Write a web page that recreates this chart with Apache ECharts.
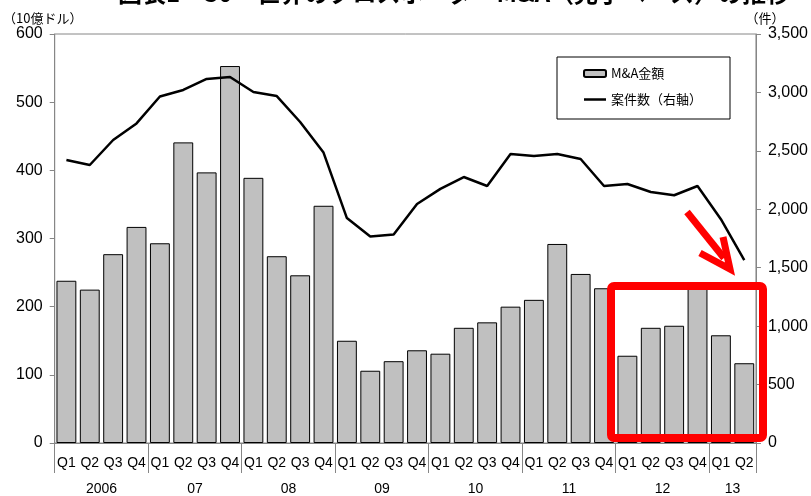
<!DOCTYPE html>
<html>
<head>
<meta charset="utf-8">
<script src="https://cdn.jsdelivr.net/npm/echarts@6/dist/echarts.min.js"></script>
<style>
  html, body { margin: 0; padding: 0; background: #fff; }
  #chart { width: 811px; height: 496px; }
</style>
</head>
<body>
<div id="chart"></div>
<script>
// 2006 Q1 - 2013 Q2
const quarters = [
  "Q1", "Q2", "Q3", "Q4", "Q1", "Q2", "Q3", "Q4", "Q1", "Q2", "Q3", "Q4",
  "Q1", "Q2", "Q3", "Q4", "Q1", "Q2", "Q3", "Q4", "Q1", "Q2", "Q3", "Q4",
  "Q1", "Q2", "Q3", "Q4", "Q1", "Q2"
];
const years = ["2006", "07", "08", "09", "10", "11", "12", "13"];
// M&A amount (10 bn USD), left axis
const maAmount = [
  238, 225, 277, 317, 293, 441, 397, 553, 389, 274, 246, 348,
  150, 106, 120, 136, 131, 169, 177, 200, 210, 292, 248, 227,
  128, 169, 172, 228, 158, 117
];
// number of deals, right axis
const dealCount = [
  2422, 2379, 2593, 2735, 2965, 3021, 3115, 3132, 3004, 2969, 2747, 2485,
  1925, 1768, 1785, 2045, 2175, 2276, 2199, 2473, 2456, 2473, 2430, 2199,
  2216, 2148, 2120, 2199, 1915, 1565
];

// year axis: 61 slots on a half-quarter grid, labels at year centres
const yearSlots = new Array(quarters.length * 2 + 1).fill("");
const yearBounds = new Set();
years.forEach(function (y, j) {
  const s = j * 4;
  const e = Math.min(s + 4, quarters.length);
  yearSlots[s + e] = y;
  yearBounds.add(s * 2);
  yearBounds.add(e * 2);
});

const font = "'Liberation Sans', Arial, 'Noto Sans CJK JP', sans-serif";
const cjk = "'Noto Sans CJK JP', 'Liberation Sans', sans-serif";
const grey = "#868686";
// thin line legend icon (tiny corner dots keep the box 22x7)
const lineIcon = "path://M0,0H0.05V0.05H0ZM0,2.25H22V4.75H0ZM21.95,6.95H22V7H21.95Z";

const chart = echarts.init(document.getElementById("chart"));
chart.setOption({
  animation: false,
  textStyle: { fontFamily: font },
  grid: {
    left: 51, right: 51, top: 34, bottom: 53,
    show: true, borderColor: grey, borderWidth: 1
  },
  legend: {
    orient: "vertical",
    left: 557,
    top: 57,
    padding: [10, 28, 13, 26],
    itemGap: 13,
    itemWidth: 22,
    itemHeight: 7,
    backgroundColor: "#fff",
    borderColor: "#000",
    borderWidth: 1,
    textStyle: { fontFamily: cjk, fontSize: 13, color: "#000" },
    data: [
      { name: "M&A金額" },
      { name: "案件数（右軸）", icon: lineIcon }
    ]
  },
  xAxis: [
    {
      type: "category",
      data: quarters,
      axisLine: { lineStyle: { color: grey } },
      axisTick: { interval: 0, length: 29, lineStyle: { color: grey } },
      axisLabel: { interval: 0, margin: 13, fontSize: 14, color: "#000" }
    },
    {
      type: "category",
      data: yearSlots,
      boundaryGap: false,
      position: "bottom",
      offset: 29,
      axisLine: { show: false },
      axisTick: {
        interval: function (i) { return yearBounds.has(i); },
        length: 30,
        lineStyle: { color: grey }
      },
      axisLabel: { interval: 0, margin: 10, fontSize: 14, color: "#000" }
    }
  ],
  yAxis: [
    {
      type: "value",
      min: 0, max: 600, interval: 100,
      name: "（10億ドル）",
      nameLocation: "end",
      nameGap: 9,
      nameTextStyle: { fontFamily: cjk, fontSize: 13, color: "#000", padding: [0, 24, 0, 0] },
      splitLine: { show: false },
      axisLine: { show: true, lineStyle: { color: grey } },
      axisTick: { show: true, length: 5, lineStyle: { color: grey } },
      axisLabel: { margin: 12, fontSize: 16, color: "#000" }
    },
    {
      type: "value",
      min: 0, max: 3500, interval: 500,
      position: "right",
      name: "（件）",
      nameLocation: "end",
      nameGap: 9,
      nameTextStyle: { fontFamily: cjk, fontSize: 13, color: "#000", padding: [0, 0, 0, 18] },
      splitLine: { show: false },
      axisLine: { show: true, lineStyle: { color: grey } },
      axisTick: { show: true, length: 5, lineStyle: { color: grey } },
      axisLabel: {
        margin: 12, fontSize: 16, color: "#000",
        formatter: function (v) { return v.toLocaleString("en-US"); }
      }
    }
  ],
  series: [
    {
      name: "M&A金額",
      type: "bar",
      data: maAmount,
      barCategoryGap: "15%",
      itemStyle: { color: "#c0c0c0", borderColor: "#000", borderWidth: 1 }
    },
    {
      name: "案件数（右軸）",
      type: "line",
      yAxisIndex: 1,
      data: dealCount,
      symbol: "none",
      z: 3,
      lineStyle: { color: "#000", width: 2.5 },
      itemStyle: { color: "#000" }
    }
  ],
  graphic: [
    {
      type: "text",
      x: 118,
      y: 5,
      z: 100,
      style: {
        text: "図表1－30　世界のクロスボーダーM&A（完了ベース）の推移",
        fontFamily: cjk, fontSize: 24, fontWeight: "bold", fill: "#000",
        verticalAlign: "bottom"
      }
    },
    {
      type: "rect",
      z: 100,
      shape: { x: 611, y: 286, width: 152, height: 152, r: 3 },
      style: { fill: "none", stroke: "#ff0000", lineWidth: 8 }
    },
    {
      type: "polyline",
      z: 100,
      shape: { points: [[687, 212], [724, 258]] },
      style: { stroke: "#ff0000", lineWidth: 7, fill: "none" }
    },
    {
      type: "polyline",
      z: 100,
      shape: { points: [[700, 253], [730, 269], [723, 237]] },
      style: { stroke: "#ff0000", lineWidth: 7, fill: "none", lineJoin: "miter" }
    }
  ]
});
</script>
</body>
</html>
